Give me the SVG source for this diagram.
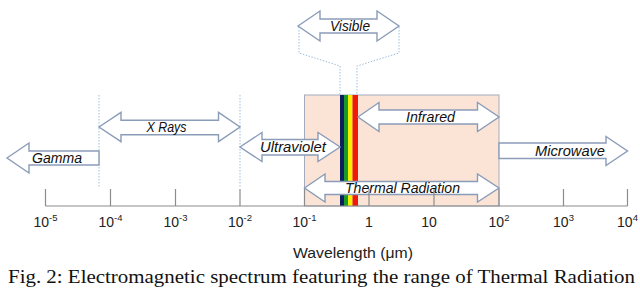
<svg xmlns="http://www.w3.org/2000/svg" width="640" height="289" viewBox="0 0 640 289">
<style>
.arr{fill:#fff;stroke:#8a9cb8;stroke-width:1.4}
.lbl{font-family:"Liberation Sans",Arial,sans-serif;font-style:italic;font-size:14px;fill:#111;text-anchor:middle}
.dot{fill:none;stroke:#9dbfe0;stroke-width:1;stroke-dasharray:1.5 1.5}
.tick{stroke:#8c8c8c;stroke-width:1.2}
.num{font-family:"Liberation Sans",Arial,sans-serif;font-size:14px;fill:#222;text-anchor:middle}
.sup{font-size:9.5px}
</style>
<rect width="640" height="289" fill="#fff"/>
<g id="thermal-range">
<rect x="304.5" y="95" width="194.5" height="111" fill="#fbe3d5" stroke="#a3acbd" stroke-width="1"/>
<rect x="340" y="95" width="4" height="111" fill="#0d1f5c"/>
<rect x="344" y="95" width="4" height="111" fill="#1a9a2a"/>
<rect x="348" y="95" width="4.5" height="111" fill="#f6f000"/>
<rect x="352.5" y="95" width="5.5" height="111" fill="#f01a0a"/>
</g>
<g id="guides">
<path class="dot" d="M99 95V188M240 95V188"/>
<path class="dot" d="M299 27V53L340 66V95M399 27V53L357 66V95"/>
</g>
<g id="connectors">
<g id="visible"><polygon class="arr" points="298,26 320,11 320,19 377,19 377,11 399,26 377,41 377,33 320,33 320,41"/><text class="lbl" x="350" y="31" textLength="40" lengthAdjust="spacingAndGlyphs">Visible</text></g>
<g id="xrays"><polygon class="arr" points="99,127 121,112.3 121,120.3 218.5,120.3 218.5,112.3 240,127 218.5,141.7 218.5,134.7 121,134.7 121,141.7"/><text class="lbl" x="166.5" y="132" textLength="40" lengthAdjust="spacingAndGlyphs">X Rays</text></g>
<g id="gamma"><polygon class="arr" points="7,158 29,143 29,151 99,151 99,165 29,165 29,173"/><text class="lbl" x="57" y="163" textLength="50" lengthAdjust="spacingAndGlyphs">Gamma</text></g>
<g id="ultraviolet"><polygon class="arr" points="240,147 262,132.5 262,139.5 318,139.5 318,132.5 340,147 318,161.5 318,155 262,155 262,161.5"/><text class="lbl" x="293" y="152" textLength="66" lengthAdjust="spacingAndGlyphs">Ultraviolet</text></g>
<g id="infrared"><polygon class="arr" points="358,117 379,102.5 379,110 477.5,110 477.5,102.5 499,117 477.5,131.5 477.5,124 379,124 379,131.5"/><text class="lbl" x="430.5" y="122" textLength="49" lengthAdjust="spacingAndGlyphs">Infrared</text></g>
<g id="microwave"><polygon class="arr" points="499,143 606,143 606,136.5 627.5,151 606,165.5 606,158.5 499,158.5"/><text class="lbl" x="570" y="156" textLength="70" lengthAdjust="spacingAndGlyphs">Microwave</text></g>
<g id="thermal"><polygon class="arr" points="304.5,188 325,174 325,181.5 477.5,181.5 477.5,174 499,188 477.5,202 477.5,194.5 325,194.5 325,202"/><text class="lbl" x="402.5" y="193" textLength="115" lengthAdjust="spacingAndGlyphs">Thermal Radiation</text></g>
</g>
<g id="axis">
<path class="tick" d="M45.5 206H627.5M45.5 189V206M110.5 189V206M175.5 189V206M240 189V206M304.5 189V206M369 189V206M434 189V206M499 189V206M563.5 189V206M627.5 189V206"/>
<text class="num" x="45.5" y="226.5">10<tspan class="sup" dy="-6">-5</tspan></text>
<text class="num" x="110.5" y="226.5">10<tspan class="sup" dy="-6">-4</tspan></text>
<text class="num" x="175.5" y="226.5">10<tspan class="sup" dy="-6">-3</tspan></text>
<text class="num" x="240" y="226.5">10<tspan class="sup" dy="-6">-2</tspan></text>
<text class="num" x="304.5" y="226.5">10<tspan class="sup" dy="-6">-1</tspan></text>
<text class="num" x="369" y="226.5">1</text>
<text class="num" x="429" y="226.5">10</text>
<text class="num" x="499" y="226.5">10<tspan class="sup" dy="-6">2</tspan></text>
<text class="num" x="563.5" y="226.5">10<tspan class="sup" dy="-6">3</tspan></text>
<text class="num" x="627.5" y="226.5">10<tspan class="sup" dy="-6">4</tspan></text>
<text x="353" y="258" font-family="'Liberation Sans',Arial,sans-serif" font-size="14" fill="#222" text-anchor="middle" textLength="120" lengthAdjust="spacingAndGlyphs">Wavelength (μm)</text>
</g>
<text x="8" y="283" font-family="'Liberation Serif','Times New Roman',serif" font-size="18" fill="#111" textLength="627" lengthAdjust="spacingAndGlyphs">Fig. 2: Electromagnetic spectrum featuring the range of Thermal Radiation</text>
</svg>
